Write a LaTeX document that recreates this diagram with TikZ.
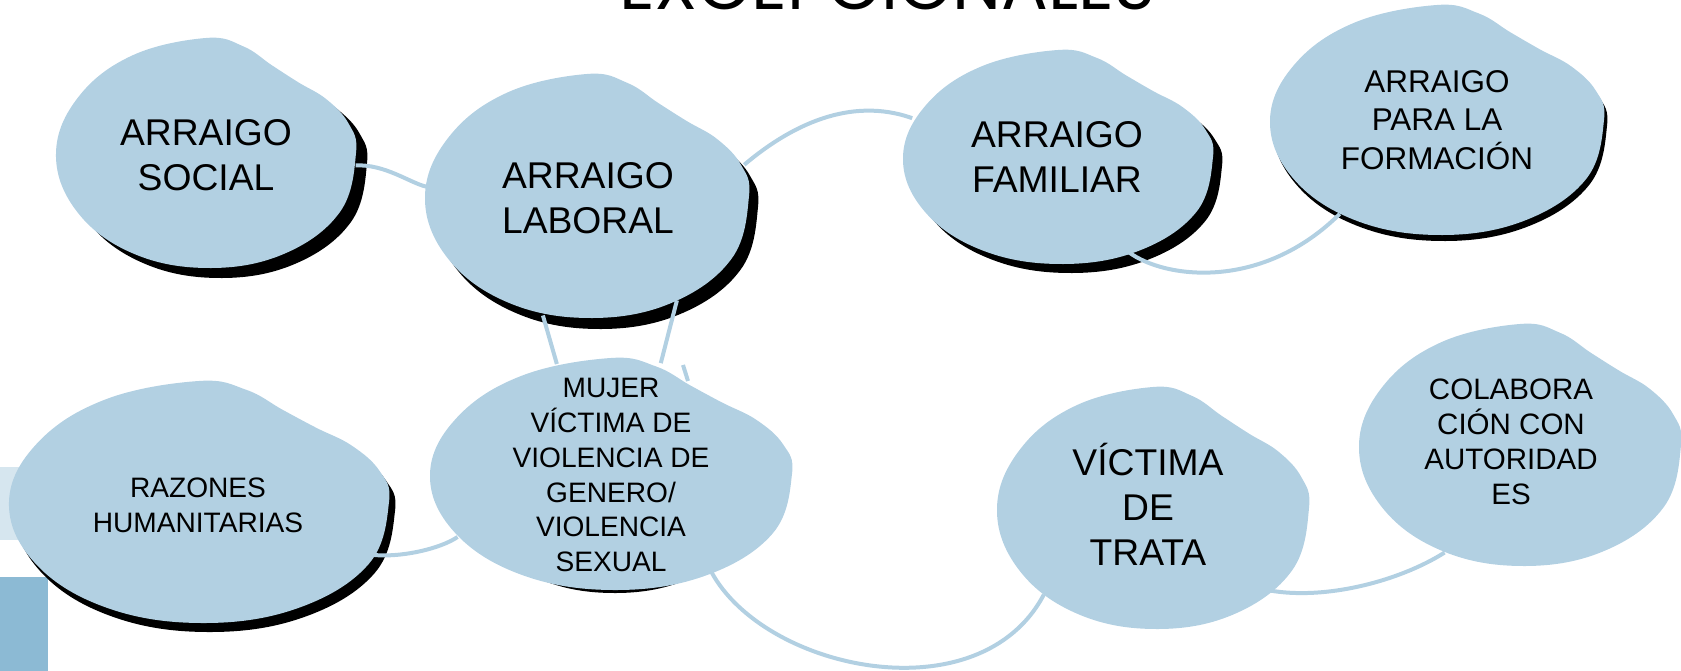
\documentclass[tikz,border=0pt]{standalone}
\usepackage{fontspec}
\usepackage{xcolor}
\usepackage{graphicx}
\usepackage{tikz}
\usetikzlibrary{shapes.geometric}
\setmainfont{Liberation Sans}
\newfontfamily\titrefont{Poppins}

\pgfdeclarelayer{ombres}
\pgfdeclarelayer{liens}
\pgfdeclarelayer{taches}
\pgfsetlayers{ombres,liens,taches,main}

\definecolor{bleuclair}{RGB}{178,208,226}
\definecolor{bleupale}{RGB}{214,230,239}
\definecolor{bleumoyen}{RGB}{140,186,212}

% Forme d'une tache : centre x, centre y, rayon x, rayon y, couleur
% (ellipse avec un creux en haut a droite)
\newcommand{\tache}[5]{%
  \fill[#5, shift={(#1,#2)}, xscale=#3, yscale=#4]
    plot[smooth cycle, tension=0.66] coordinates {(1,0) (0.951,0.255) (0.805,0.465) (0.615,0.615) (0.44,0.762) (0.249,0.927) (0,1) (-0.49,0.849) (-0.849,0.49) (-1,0) (-0.866,-0.5) (-0.5,-0.866) (0,-1) (0.51,-0.883) (0.892,-0.515)};}

\begin{document}
\begin{tikzpicture}[x=0.02cm, y=0.02cm,
  bulle/.style={ellipse, inner sep=0pt, align=center},
  grand/.style={font=\fontsize{21.2}{25.6}\selectfont},
  moyen/.style={font=\fontsize{17.9}{21.9}\selectfont},
  petit/.style={font=\fontsize{16}{19.9}\selectfont},
  lien/.style={draw=bleuclair, line width=0.08cm}]

\useasboundingbox (0,0) rectangle (1681,671);

% Titre (coupé en haut)
\node[anchor=base] (titre) at (887,661) {\resizebox{10.72cm}{!}{\titrefont EXCEPCIONALES}};

% Bulles
\node[bulle, grand, minimum width=6cm, minimum height=4.6cm] (social) at (206,516) {ARRAIGO\\SOCIAL};
\node[bulle, grand, minimum width=6.48cm, minimum height=4.88cm] (laboral) at (588,473) {ARRAIGO\\LABORAL};
\node[bulle, grand, minimum width=6.2cm, minimum height=4.28cm] (familiar) at (1057,514) {ARRAIGO\\FAMILIAR};
\node[bulle, moyen, minimum width=6.68cm, minimum height=4.6cm] (formacion) at (1437,551) {ARRAIGO\\PARA LA\\FORMACIÓN};
\node[bulle, petit, minimum width=7.6cm, minimum height=4.84cm] (razones) at (198,166) {RAZONES\\HUMANITARIAS};
\node[bulle, petit, inner ysep=-0.5cm, minimum width=7.24cm, minimum height=4.64cm] (mujer) at (611,196) {MUJER\\VÍCTIMA DE\\VIOLENCIA DE\\GENERO/\\VIOLENCIA\\SEXUAL}; % inner ysep < 0 : ellipse pas trop haute
\node[bulle, grand, minimum width=6.24cm, minimum height=4.84cm] (trata) at (1148,167) {VÍCTIMA\\DE\\TRATA};
\node[bulle, font=\fontsize{16.8}{19.9}\selectfont, minimum width=6.44cm, minimum height=4.84cm] (colab) at (1511,229) {COLABORA\\CIÓN CON\\AUTORIDAD\\ES};

% Ombres et bandes à gauche
\begin{pgfonlayer}{ombres}
\fill[bleupale] (0,131) rectangle (48,204);
\fill[bleumoyen] (0,0) rectangle (48,94);
\tache{217}{508}{150}{115}{black}
\tache{596}{464}{162}{122}{black}
\tache{1067}{505}{155}{107}{black}
\tache{1440}{545}{167}{115}{black}
\tache{205}{160}{190}{121}{black}
\tache{611}{194}{150}{116}{black} % juste en bas
\end{pgfonlayer}

% Liens
\begin{pgfonlayer}{liens}
\draw[lien] (social.-4) .. controls (385,507) and (410,488) .. (laboral.176);
\draw[lien] (laboral.12) .. controls (790,545) and (850,575) .. (familiar.165);
\draw[lien] (familiar.-53) .. controls (1165,392) and (1262,380) .. (formacion.224);
\draw[lien] (laboral.249) -- (mujer.116);
\draw[lien] (laboral.-49) -- (mujer.66);
\coordinate (bout) at (683,306);
\draw[lien] (bout) -- ++(5,-16);
\draw[lien] (razones.-16) .. controls (400,113) and (440,122) .. (mujer.202);
\draw[lien] (mujer.-44) .. controls (765,0) and (980,-45) .. (trata.221);
\draw[lien] (trata.-37) .. controls (1320,68) and (1400,90) .. (colab.239);
\end{pgfonlayer}

% Taches bleues
\begin{pgfonlayer}{taches}
\tache{206}{518}{150}{115}{bleuclair}
\tache{587}{475}{162}{122}{bleuclair}
\tache{1058}{514}{155}{107}{bleuclair}
\tache{1437}{551}{167}{115}{bleuclair}
\tache{199}{169}{190}{121}{bleuclair}
\tache{611}{197}{181}{116}{bleuclair}
\tache{1153}{163}{156}{121}{bleuclair}
\tache{1520}{226}{161}{121}{bleuclair}
\end{pgfonlayer}

\end{tikzpicture}
\end{document}
